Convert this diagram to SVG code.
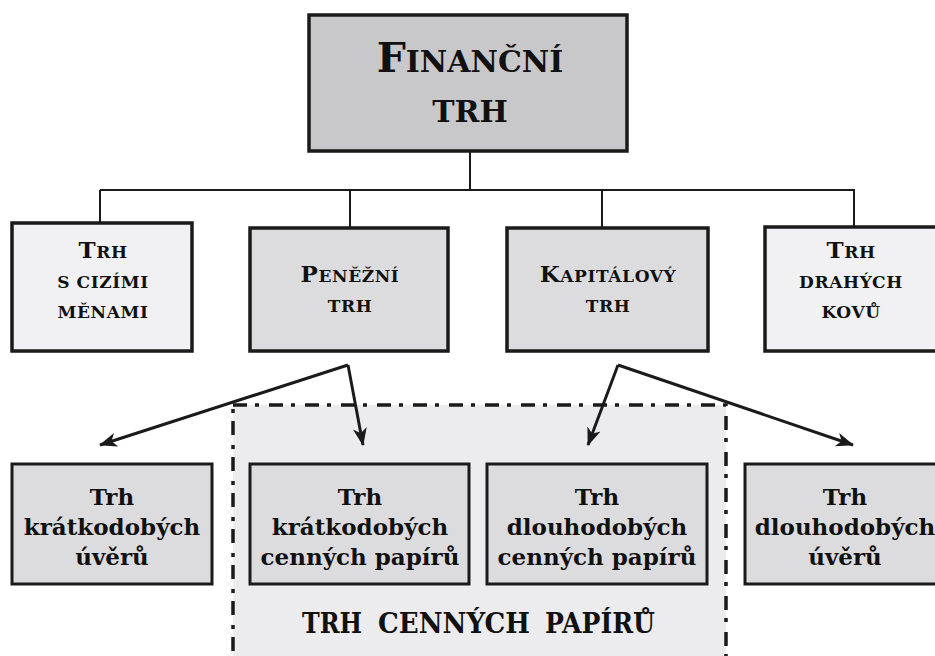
<svg xmlns="http://www.w3.org/2000/svg" width="935" height="656" viewBox="0 0 935 656">
<style>
  .box{stroke:#1a1a1a;stroke-width:3.5}
  .box3{stroke:#1a1a1a;stroke-width:3}
  .light{fill:#f1f1f3}
  .mid{fill:#dcdcdf}
  .top{fill:#c8c8ca}
  text{font-family:"DejaVu Serif","Liberation Serif",serif;font-weight:bold;fill:#111;text-anchor:middle}
  .sc{font-size:17px;letter-spacing:0.6px}
  .big{font-size:23px}
  .t3{font-size:23px}
  .lab{font-size:28px}
  .line{stroke:#1a1a1a;stroke-width:2;fill:none}
  .arr{stroke:#1a1a1a;stroke-width:3;fill:none;marker-end:url(#ah)}
</style>
<defs>
  <marker id="ah" markerUnits="userSpaceOnUse" markerWidth="20" markerHeight="16" refX="17" refY="7" orient="auto" viewBox="0 0 20 14">
    <path d="M0,0 L18,7 L0,14 L5,7 Z" fill="#1a1a1a"/>
  </marker>
</defs>
<rect width="935" height="656" fill="#ffffff"/>

<g id="container">
  <rect x="233" y="405" width="493" height="260" fill="#ececee" stroke="#1a1a1a" stroke-width="3.5" stroke-dasharray="14 8 4 10"/>
  <text class="lab" x="332" y="633" textLength="60" lengthAdjust="spacingAndGlyphs">TRH</text>
  <text class="lab" x="454" y="633" textLength="152" lengthAdjust="spacingAndGlyphs">CENNÝCH</text>
  <text class="lab" x="600" y="633" textLength="110" lengthAdjust="spacingAndGlyphs">PAPÍRŮ</text>
</g>

<g id="connectors">
  <path class="line" d="M470,151 V190"/>
  <path class="line" d="M100,190 H855"/>
  <path class="line" d="M100,190 V223"/>
  <path class="line" d="M350,190 V228"/>
  <path class="line" d="M602,190 V228"/>
  <path class="line" d="M854,190 V227"/>
  <path class="arr" d="M348,365 L100,445"/>
  <path class="arr" d="M348,365 L363,445"/>
  <path class="arr" d="M618,365 L588,445"/>
  <path class="arr" d="M618,365 L853,445"/>
</g>

<g id="financni-trh">
  <rect class="box top" x="309" y="15" width="318" height="136"/>
  <text x="470" y="72" font-size="30"><tspan font-size="41">F</tspan>INANČNÍ</text>
  <text x="470" y="122" font-size="30">TRH</text>
</g>

<g id="trh-cizimi-menami">
  <rect class="box light" x="12" y="223" width="180" height="128"/>
  <text class="sc" x="103" y="258"><tspan class="big">T</tspan>RH</text>
  <text class="sc" x="103" y="288">S CIZÍMI</text>
  <text class="sc" x="103" y="318">MĚNAMI</text>
</g>

<g id="penezni-trh">
  <rect class="box mid" x="250" y="228" width="198" height="123"/>
  <text class="sc" x="350" y="282"><tspan class="big">P</tspan>ENĚŽNÍ</text>
  <text class="sc" x="350" y="312">TRH</text>
</g>

<g id="kapitalovy-trh">
  <rect class="box mid" x="507" y="228" width="201" height="123"/>
  <text class="sc" x="608" y="282"><tspan class="big">K</tspan>APITÁLOVÝ</text>
  <text class="sc" x="608" y="312">TRH</text>
</g>

<g id="trh-drahych-kovu">
  <rect class="box light" x="765" y="227" width="180" height="124"/>
  <text class="sc" x="851" y="258"><tspan class="big">T</tspan>RH</text>
  <text class="sc" x="851" y="288">DRAHÝCH</text>
  <text class="sc" x="851" y="318">KOVŮ</text>
</g>

<g id="trh-kratkodobych-uveru">
  <rect class="box3 mid" x="12" y="464" width="200" height="120"/>
  <text class="t3" x="112" y="505">Trh</text>
  <text class="t3" x="112" y="535">krátkodobých</text>
  <text class="t3" x="112" y="565">úvěrů</text>
</g>

<g id="trh-kratkodobych-cennych-papiru">
  <rect class="box3 mid" x="250" y="464" width="219" height="120"/>
  <text class="t3" x="360" y="505">Trh</text>
  <text class="t3" x="360" y="535">krátkodobých</text>
  <text class="t3" x="360" y="565">cenných papírů</text>
</g>

<g id="trh-dlouhodobych-cennych-papiru">
  <rect class="box3 mid" x="487" y="464" width="220" height="120"/>
  <text class="t3" x="597" y="505">Trh</text>
  <text class="t3" x="597" y="535">dlouhodobých</text>
  <text class="t3" x="597" y="565">cenných papírů</text>
</g>

<g id="trh-dlouhodobych-uveru">
  <rect class="box3 mid" x="745" y="464" width="200" height="120"/>
  <text class="t3" x="845" y="505">Trh</text>
  <text class="t3" x="845" y="535">dlouhodobých</text>
  <text class="t3" x="845" y="565">úvěrů</text>
</g>
</svg>
